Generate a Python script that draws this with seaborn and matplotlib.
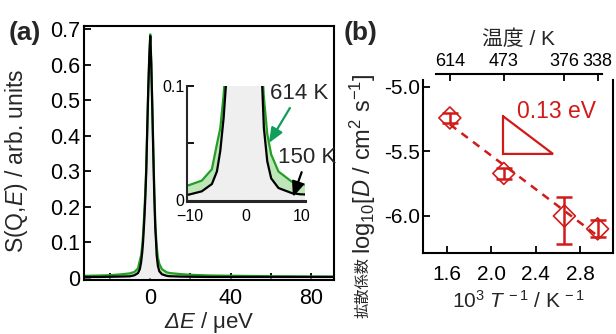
import numpy as np
import matplotlib
matplotlib.use("Agg")
import matplotlib.pyplot as plt
import seaborn as sns

# ---------------- data ----------------
# (a) quasi-elastic spectra, energy transfer in ueV
energy = [-33, -25, -20, -15, -10.2, -7.9, -6.1, -5.2, -4.6, -4.0, -3.6, -3.0, -2.5,
          -2.0, -1.5, -1.0, -0.5, 0.0, 0.5, 1.0, 1.5, 2.0, 2.5, 2.9, 3.2, 3.8, 4.5,
          5.8, 8.2, 9.7, 15, 20, 30, 45, 60, 75, 91.5]
s_150K = [0.003, 0.003, 0.0035, 0.004, 0.0047, 0.0076, 0.014, 0.025, 0.043, 0.072,
          0.10, 0.16, 0.22, 0.30, 0.42, 0.53, 0.62, 0.68, 0.60, 0.48, 0.35, 0.23,
          0.14, 0.10, 0.063, 0.034, 0.019, 0.0105, 0.006, 0.005, 0.004, 0.0035,
          0.003, 0.003, 0.003, 0.003, 0.003]
s_614K = [0.006, 0.007, 0.008, 0.010, 0.013, 0.017, 0.027, 0.049, 0.063, 0.092,
          0.12, 0.18, 0.24, 0.31, 0.42, 0.53, 0.62, 0.685, 0.61, 0.49, 0.37, 0.25,
          0.16, 0.115, 0.09, 0.058, 0.040, 0.025, 0.016, 0.014, 0.011, 0.009,
          0.007, 0.006, 0.005, 0.0045, 0.004]

# (b) diffusion coefficients
temps_K = [614, 473, 376, 338]
log_D = [-5.24, -5.67, -6.00, -6.10]
err_lo = [0.04, 0.04, 0.22, 0.065]
err_hi = [0.04, 0.04, 0.15, 0.065]

a_xticks = [-20, 0, 20, 40, 60, 80]
a_xticklabels = ["", "0", "", "40", "", "80"]
a_yticks = [0, 0.1, 0.2, 0.3, 0.4, 0.5, 0.6, 0.7]
a_yticklabels = ["0", "0.1", "0.2", "0.3", "0.4", "0.5", "0.6", "0.7"]
in_xticks = [-10, 0, 10]
in_yticks = [0, 0.05, 0.1]
in_yticklabels = ["0", "", "0.1"]
b_xticks = [1.6, 2.0, 2.4, 2.8]
b_yticks = [-5.0, -5.5, -6.0]

# ---------------- style ----------------
sns.set_theme(style="ticks")
plt.rcParams["font.family"] = ["Liberation Sans", "Noto Sans CJK JP"]
plt.rcParams["mathtext.fontset"] = "custom"
plt.rcParams["mathtext.rm"] = "Liberation Sans"
plt.rcParams["mathtext.it"] = "Liberation Sans:italic"
plt.rcParams["mathtext.bf"] = "Liberation Sans:bold"
plt.rcParams["mathtext.cal"] = "Liberation Sans:italic"
plt.rcParams["axes.linewidth"] = 1.5

GREEN = "#23a023"
ARROW_GREEN = "#119e5a"
LIGHT_GREEN = "#bfe6b8"
GRAY = "#efefef"
RED = "#d11a1a"

W, H = 616, 334
fig = plt.figure(figsize=(W / 100, H / 100), dpi=100)


def rect(l, t, r, b):
    return [l / W, (H - b) / H, (r - l) / W, (b - t) / H]


E = np.array(energy)
s1 = np.array(s_150K)
s2 = np.array(s_614K)

# ---------------- (a) main ----------------
ax = fig.add_axes(rect(84, 26, 334, 280))
ax.fill_between(E, 0, s1, color=GRAY, lw=0)
ax.fill_between(E, s1, s2, color=LIGHT_GREEN, lw=0)
sns.lineplot(x=E, y=s2, ax=ax, color=GREEN, lw=1.6, estimator=None, sort=False)
sns.lineplot(x=E, y=s1, ax=ax, color="black", lw=1.6, estimator=None, sort=False)
ax.set_xlim(-33, 91.5)
ax.set_ylim(-0.0056, 0.7084)
ax.set_xticks(a_xticks)
ax.set_xticklabels(a_xticklabels)
ax.set_yticks(a_yticks)
ax.set_yticklabels(a_yticklabels)
ax.tick_params(direction="in", length=5, width=1.3, labelsize=15.5, colors="black")
ax.tick_params(axis="x", pad=6)
ax.tick_params(axis="y", pad=3)
for sp in ax.spines.values():
    sp.set_linewidth(1.5)
    sp.set_color("black")
ax.set_xlabel(r"$\mathcal{\Delta E}$ / μeV", fontsize=16, labelpad=0.5)
ax.set_ylabel(r"S(Q,$E$) / arb. units", fontsize=16.5)
ax.yaxis.set_label_coords(-(84 - 30) / 250, (280 - 161) / 254)

# ---------------- (a) inset ----------------
ai = fig.add_axes(rect(187, 86, 305, 201))
ai.set_facecolor("white")
ai.fill_between(E, 0, s1, color=GRAY, lw=0)
ai.fill_between(E, s1, s2, color=LIGHT_GREEN, lw=0)
sns.lineplot(x=E, y=s2, ax=ai, color=GREEN, lw=1.6, estimator=None, sort=False)
sns.lineplot(x=E, y=s1, ax=ai, color="black", lw=1.6, estimator=None, sort=False)
ai.set_xlim(-10.55, 10.55)
ai.set_ylim(-0.0009, 0.1)
ai.set_xticks(in_xticks)
ai.set_yticks(in_yticks)
ai.set_yticklabels(in_yticklabels)
ai.spines["top"].set_visible(False)
ai.spines["right"].set_visible(False)
ai.spines["left"].set_linewidth(1.5)
ai.spines["bottom"].set_linewidth(2.2)
ai.tick_params(direction="in", length=5, width=1.3, labelsize=11.5, colors="black")
ai.tick_params(axis="y", pad=2)
ai.tick_params(axis="x", pad=5.5)

ai.annotate("614 K", xy=(4.1, 0.05), xycoords="data",
            xytext=(59.5, 0.52), textcoords=ax.transData,
            ha="left", va="center", fontsize=16, annotation_clip=False,
            arrowprops=dict(arrowstyle="-|>,head_length=0.6,head_width=0.25",
                            mutation_scale=15, color=ARROW_GREEN, lw=1.6,
                            shrinkA=1, shrinkB=0))
ai.annotate("150 K", xy=(8.4, 0.0026), xycoords="data",
            xytext=(63.5, 0.34), textcoords=ax.transData,
            ha="left", va="center", fontsize=16, annotation_clip=False,
            arrowprops=dict(arrowstyle="-|>,head_length=0.6,head_width=0.25",
                            mutation_scale=15, color="black", lw=1.6,
                            shrinkA=1, shrinkB=0))

fig.text(9 / W, (H - 33) / H, "(a)", fontsize=19, fontweight="bold", ha="left", va="center")

# ---------------- (b) ----------------
bx = fig.add_axes(rect(423, 80, 613, 253))
inv_T = 1000.0 / np.array(temps_K)
yD = np.array(log_D)
bx.errorbar(inv_T, yD, yerr=[err_lo, err_hi], fmt="none", ecolor=RED,
            elinewidth=1.8, capsize=6, capthick=1.8, zorder=3)
sns.scatterplot(x=inv_T, y=yD, ax=bx, marker="D", s=125, facecolor="none",
                edgecolor=RED, linewidth=1.2, zorder=4)
slope, icpt = np.polyfit(inv_T, yD, 1)
xf = np.array([inv_T[0], inv_T[-1]])
sns.lineplot(x=xf, y=slope * xf + icpt, ax=bx, color=RED, lw=1.8,
             linestyle=(0, (3.2, 2.6)), estimator=None, zorder=2)
# slope triangle (hypotenuse follows fit slope)
tx0, tw, tyb = 2.107, 0.45, -5.519
th = -slope * tw
bx.plot([tx0, tx0, tx0 + tw, tx0], [tyb + th, tyb, tyb, tyb + th], color=RED, lw=1.6,
        solid_joinstyle="miter")
Ea = -slope * np.log(10) * 8.617e-5 * 1000
bx.text(2.233, -5.19, f"{Ea:.2f} eV", color=RED, fontsize=16.5, ha="left", va="center")

bx.set_xlim(1.387, 3.097)
bx.set_ylim(-6.287, -4.946)
bx.set_xticks(b_xticks)
bx.set_xticklabels([f"{v:.1f}" for v in b_xticks])
bx.set_yticks(b_yticks)
bx.set_yticklabels([f"{v:.1f}" for v in b_yticks])
bx.spines["top"].set_visible(False)
for k in ["left", "right", "bottom"]:
    bx.spines[k].set_linewidth(1.5)
    bx.spines[k].set_color("black")
bx.tick_params(direction="in", length=5, width=1.3, labelsize=15, colors="black")
bx.tick_params(axis="x", pad=9)
bx.tick_params(axis="y", pad=2)
bx.set_xlabel(r"10$^{3}$ $T^{\,-1}$ / K$^{\,-1}$", fontsize=15, labelpad=4)

# top temperature axis
tx = bx.twiny()
tx.set_xlim(bx.get_xlim())
tx.set_xticks(inv_T)
tx.set_xticklabels([str(t) for t in temps_K])
for k in ["left", "right", "bottom"]:
    tx.spines[k].set_visible(False)
tx.spines["top"].set_position(("outward", 4.3))
tx.spines["top"].set_bounds(1.5, 3.0)
tx.spines["top"].set_linewidth(1.5)
tx.spines["top"].set_color("black")
tx.tick_params(direction="in", length=5, width=1.3, labelsize=13, pad=3, colors="black")
tx.set_xlabel("温度 / K", fontsize=15, labelpad=6)

fig.text(363 / W, (H - 254) / H, r"log$_{10}$[$D$ / cm$^{2}$ s$^{-1}$]",
         rotation=90, fontsize=17, ha="center", va="bottom")
fig.text(363 / W, (H - 257) / H, "拡散係数", rotation=90, fontsize=11,
         ha="center", va="top")

fig.text(344 / W, (H - 33) / H, "(b)", fontsize=19, fontweight="bold", ha="left", va="center")

fig.savefig("out.png", dpi=100)
